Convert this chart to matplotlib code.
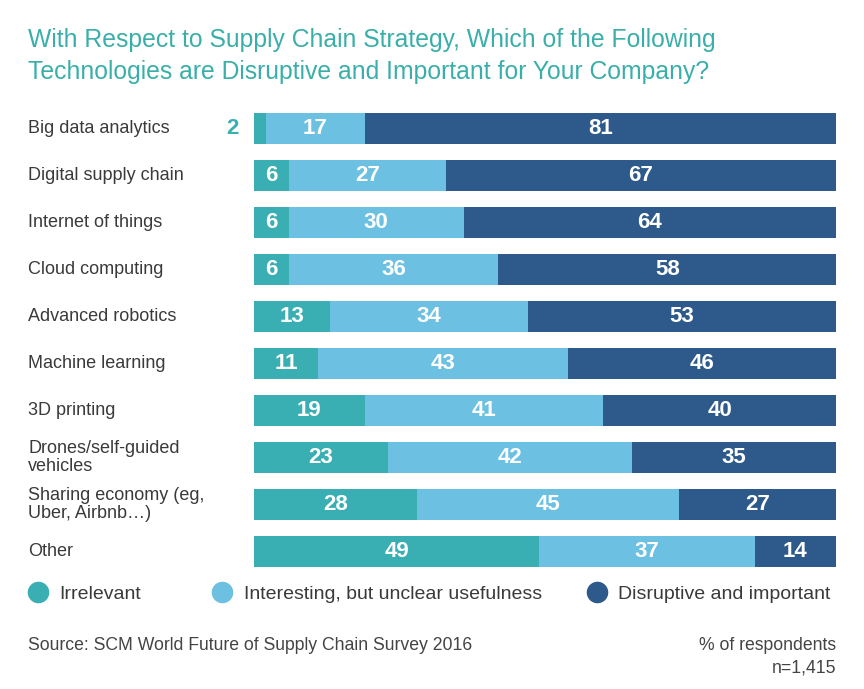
import matplotlib.pyplot as plt
import matplotlib.transforms as mtransforms
from matplotlib.lines import Line2D

plt.rcParams['font.family'] = ['Liberation Sans', 'DejaVu Sans']

categories = ["Big data analytics", "Digital supply chain", "Internet of things",
              "Cloud computing", "Advanced robotics", "Machine learning",
              "3D printing", "Drones/self-guided\nvehicles",
              "Sharing economy (eg,\nUber, Airbnb\u2026)", "Other"]
irrelevant = [2, 6, 6, 6, 13, 11, 19, 23, 28, 49]
interesting = [17, 27, 30, 36, 34, 43, 41, 42, 45, 37]
disruptive = [81, 67, 64, 58, 53, 46, 40, 35, 27, 14]
series_names = ["Irrelevant", "Interesting, but unclear usefulness", "Disruptive and important"]
colors = ["#3aafb3", "#6cc0e2", "#2d5a8a"]

fig = plt.figure(figsize=(8.64, 6.89), dpi=100)
ax = fig.add_axes([254 / 864, 1 - 575 / 689, (836 - 254) / 864, 470 / 689])

y = list(range(len(categories)))
left = [0] * len(categories)
for vals, col in zip([irrelevant, interesting, disruptive], colors):
    bars = ax.barh(y, vals, left=left, height=0.64, color=col)
    for b, v in zip(bars, vals):
        cx = b.get_x() + b.get_width() / 2
        cy = b.get_y() + b.get_height() / 2
        if v < 4:
            ax.text(b.get_x() - 2.7, cy, str(v), ha='right', va='center',
                    color=colors[0], fontsize=16, fontweight='bold')
        else:
            ax.text(cx, cy, str(v), ha='center', va='center',
                    color='white', fontsize=16, fontweight='bold')
    left = [l + v for l, v in zip(left, vals)]

ax.set_xlim(0, 100)
ax.set_ylim(len(categories) - 0.5, -0.5)
ax.axis('off')

trans = mtransforms.blended_transform_factory(fig.transFigure, ax.transData)
for i, c in enumerate(categories):
    ax.text(28 / 864, i, c, transform=trans, ha='left', va='center',
            fontsize=13, color='#3a3a3a', linespacing=1.05)

fig.text(28 / 864, 1 - 40 / 689, "With Respect to Supply Chain Strategy, Which of the Following",
         color='#3aafa9', fontsize=17.8, va='center', ha='left')
fig.text(28 / 864, 1 - 72 / 689, "Technologies are Disruptive and Important for Your Company?",
         color='#3aafa9', fontsize=17.8, va='center', ha='left')

# one legend per entry so each can sit where the reference puts it
legend_x = [28, 212, 587]
for name, c, lx in zip(series_names, colors, legend_x):
    h = Line2D([], [], marker='o', linestyle='none', markersize=14.5,
               markerfacecolor=c, markeredgecolor=c)
    fig.legend([h], [name], loc='center left',
               bbox_to_anchor=(lx / 864, 1 - 594 / 689),
               frameon=False, fontsize=14, handletextpad=0.62, handlelength=1.0,
               borderaxespad=0, borderpad=0, labelcolor='#3a3a3a')

fig.text(28 / 864, 1 - 645 / 689, "Source: SCM World Future of Supply Chain Survey 2016",
         fontsize=12.7, color='#444444', va='center', ha='left')
fig.text(836 / 864, 1 - 645 / 689, "% of respondents", fontsize=12.7,
         color='#444444', va='center', ha='right')
fig.text(836 / 864, 1 - 668 / 689, "n=1,415", fontsize=12.7,
         color='#444444', va='center', ha='right')

fig.savefig("out.png", dpi=100, facecolor='white')
